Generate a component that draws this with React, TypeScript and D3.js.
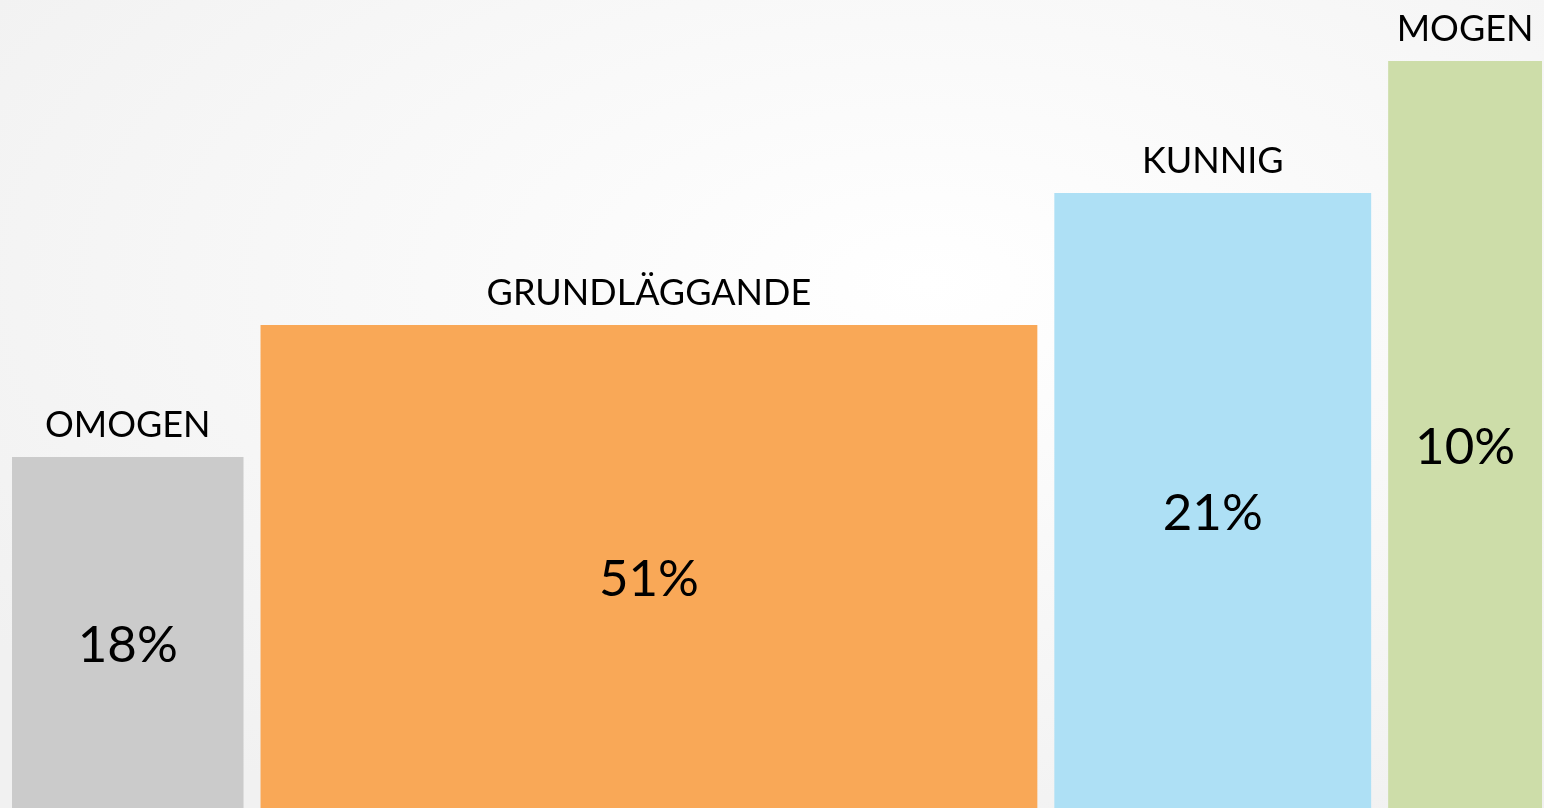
import React, { useEffect, useRef } from 'react';
import * as d3 from 'd3';

// maturity levels, left to right
const categories = ['OMOGEN', 'GRUNDLÄGGANDE', 'KUNNIG', 'MOGEN'];
const shares = [18, 51, 21, 10];
const levels = [1, 2, 3, 4];
// width of each bar (share units)
const widthShares = [15.2, 51, 20.8, 10.1];
const colors = ['#CBCBCB', '#F9A857', '#AEE0F5', '#CDDDA9'];

const App = () => {
  const ref = useRef<SVGSVGElement>(null);

  useEffect(() => {
    const width = 1544;
    const height = 808;
    const margin = { left: 12, right: 2 };
    const gap = 17;
    const bottom = 831;

    const svg = d3.select(ref.current);
    svg.selectAll('*').remove();
    svg.attr('width', width).attr('height', height);

    const grad = svg.append('defs').append('radialGradient')
      .attr('id', 'bg')
      .attr('cx', '0.6').attr('cy', '0.35').attr('r', '0.75');
    grad.append('stop').attr('offset', '0').attr('stop-color', '#ffffff');
    grad.append('stop').attr('offset', '1').attr('stop-color', '#f1f1f1');

    svg.append('rect')
      .attr('width', width).attr('height', height)
      .attr('fill', 'url(#bg)');

    const total = d3.sum(widthShares);
    const x = d3.scaleLinear()
      .domain([0, total])
      .range([0, width - margin.left - margin.right - gap * (categories.length - 1)]);

    const y = d3.scaleLinear().domain([0, 4]).range([589, 61]);

    const starts = widthShares.map((_, i) =>
      margin.left + x(d3.sum(widthShares.slice(0, i))) + gap * i);

    const data = categories.map((c, i) => ({
      c, share: shares[i], level: levels[i], w: x(widthShares[i]), x0: starts[i], color: colors[i]
    }));

    const g = svg.append('g').attr('font-family', 'Lato, "Open Sans", sans-serif');

    g.selectAll('rect.bar')
      .data(data)
      .enter().append('rect')
      .attr('class', 'bar')
      .attr('x', d => d.x0)
      .attr('y', d => y(d.level))
      .attr('width', d => d.w)
      .attr('height', d => bottom - y(d.level))
      .attr('fill', d => d.color);

    g.selectAll('text.cat')
      .data(data)
      .enter().append('text')
      .attr('class', 'cat')
      .attr('x', d => d.x0 + d.w / 2)
      .attr('y', d => y(d.level) - 20)
      .attr('text-anchor', 'middle')
      .attr('font-size', 36)
      .attr('fill', '#000')
      .text(d => d.c);

    g.selectAll('text.val')
      .data(data)
      .enter().append('text')
      .attr('class', 'val')
      .attr('x', d => d.x0 + d.w / 2)
      .attr('y', d => (y(d.level) + bottom) / 2)
      .attr('dy', '0.36em')
      .attr('text-anchor', 'middle')
      .attr('font-size', 51)
      .attr('fill', '#000')
      .text(d => `${d.share}%`);
  }, []);

  return (
    <div>
      <svg ref={ref} style={{ position: 'fixed', left: 0, top: 0 }}></svg>
    </div>
  );
};

export default App;
